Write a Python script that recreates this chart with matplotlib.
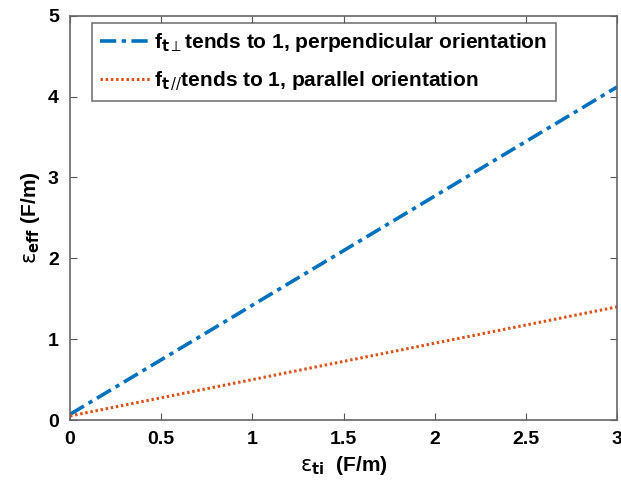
import matplotlib
matplotlib.use("Agg")
from matplotlib import pyplot as plt

plt.rcParams['font.family'] = ['Liberation Sans', 'DejaVu Sans']
plt.rcParams['mathtext.fontset'] = 'dejavusans'

# data (straight lines, end points)
eps_ti = [0, 3]
eff_perp = [0.07, 4.12]
eff_par = [0.05, 1.40]
xticks = [0, 0.5, 1, 1.5, 2, 2.5, 3]
yticks = [0, 1, 2, 3, 4, 5]

fig = plt.figure(figsize=(6.21, 4.99), dpi=100)
ax = fig.add_axes([0.1127, 0.1583, 0.881, 0.810])

ax.plot(eps_ti, eff_perp, color='#0072BD', lw=2.6, linestyle=(0, (4.5, 1.5, 1.2, 1.5)),
        label=r'f$_{\mathbf{t}\perp}$tends to 1, perpendicular orientation')
ax.plot(eps_ti, eff_par, color='#D95319', lw=2.2, linestyle=(0, (0.8, 0.9)),
        label=r'f$_{\mathbf{t}\,\mathit{//}}$tends to 1, parallel orientation')

ax.set_xlim(0, 3)
ax.set_ylim(0, 5)
ax.set_xticks(xticks)
ax.set_xticklabels(['0', '0.5', '1', '1.5', '2', '2.5', '3'], fontweight='bold')
ax.set_yticks(yticks)
ax.set_yticklabels([str(v) for v in yticks], fontweight='bold')
ax.tick_params(direction='in', length=5, top=True, right=True, labelsize=14,
               color='#555555', pad=8)
for s in ax.spines.values():
    s.set_color('#666666')
    s.set_linewidth(1.2)

ax.set_xlabel(r'$\mathrm{\varepsilon}_{\mathbf{ti}}$  (F/m)', fontsize=15, fontweight='bold')
ax.set_ylabel(r'$\mathrm{\varepsilon}_{\mathbf{eff}}$ (F/m)', fontsize=15, fontweight='bold')

leg = ax.legend(loc='upper left', bbox_to_anchor=(0.04, 0.983),
                prop={'size': 15, 'weight': 'bold'},
                fancybox=False, edgecolor='#555555', handlelength=2.4,
                handletextpad=0.2, borderpad=0.4, labelspacing=0.75,
                borderaxespad=0)
leg.get_frame().set_linewidth(1.2)

fig.savefig('out.png', dpi=100)
